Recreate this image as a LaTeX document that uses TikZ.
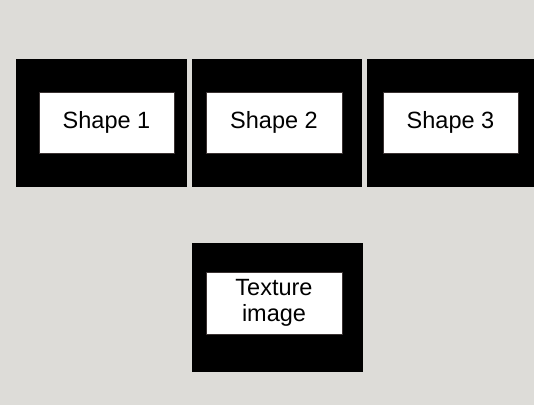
\documentclass[tikz,border=0pt]{standalone}
\usepackage{fontspec}
\setmainfont{Liberation Sans}
\definecolor{bg}{HTML}{DDDCD8}
\definecolor{edge}{HTML}{3A3232}
\begin{document}
\begin{tikzpicture}[x=1pt,y=-1pt,
  outer/.style={fill=black,draw=none},
  inner/.style={fill=white,draw=edge,line width=0.8pt,inner sep=0pt,
    font=\fontsize{23.5}{25.5}\selectfont,align=center},
]
\fill[bg] (0,0) rectangle (534,405);
\useasboundingbox (0,0) rectangle (534,405);
% outer black boxes
\fill[outer] (16,59) rectangle (187,187);
\fill[outer] (192,59) rectangle (362,187);
\fill[outer] (367,59) rectangle (534,187);
\fill[outer] (192,243) rectangle (363,372);
% inner white boxes
\node[inner,minimum width=135pt,minimum height=61pt] (s1) at (106.5,122.5) {Shape 1};
\node[inner,minimum width=136pt,minimum height=61pt] (s2) at (274,122.5) {Shape 2};
\node[inner,minimum width=135pt,minimum height=61pt] (s3) at (450.5,122.5) {Shape 3};
\node[inner,minimum width=136pt,minimum height=62pt] (tex) at (274,303) {Texture\\image};
\end{tikzpicture}
\end{document}
